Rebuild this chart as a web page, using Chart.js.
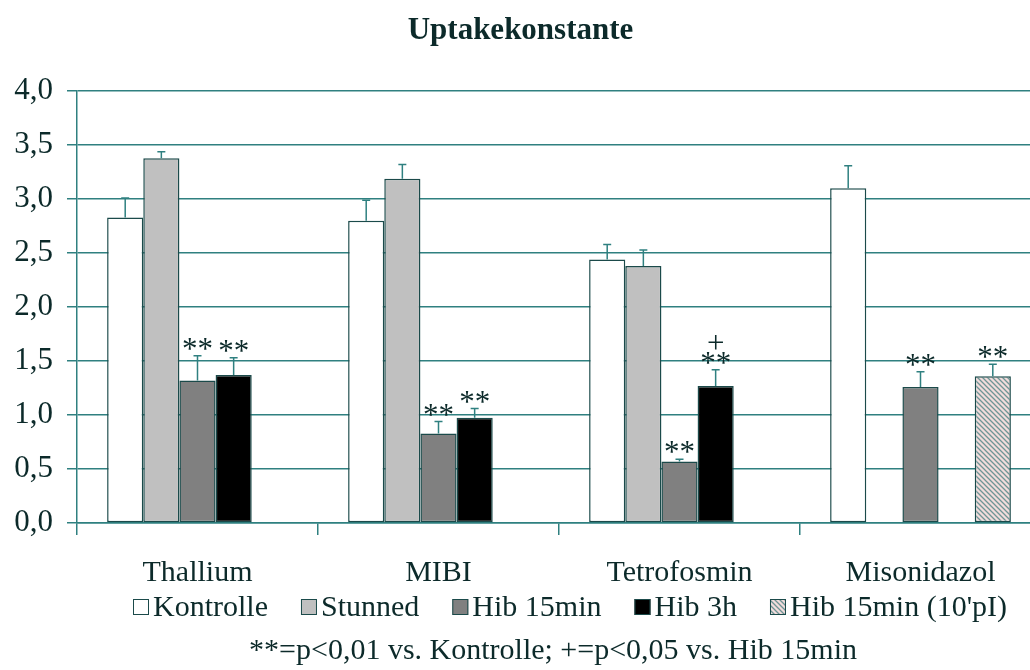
<!DOCTYPE html>
<html>
<head>
<meta charset="utf-8">
<title>Uptakekonstante</title>
<script src="https://cdn.jsdelivr.net/npm/chart.js@4.4.1/dist/chart.umd.min.js"></script>
<style>
  html, body { margin: 0; padding: 0; background: #fff; overflow: hidden; }
  #wrap { width: 1030px; height: 670px; overflow: hidden; }
</style>
</head>
<body>
<div id="wrap"><canvas id="grafico" width="1045" height="670"></canvas></div>
<script>
// data
const categories = ["Thallium", "MIBI", "Tetrofosmin", "Misonidazol"];
const seriesNames = ["Kontrolle", "Stunned", "Hib 15min", "Hib 3h", "Hib 15min (10'pI)"];

const kontrolle = [2.83, 2.80, 2.44, 3.10];
const stunned   = [3.38, 3.19, 2.38, null];
const hib15     = [1.32, 0.83, 0.57, 1.26];
const hib3h     = [1.37, 0.975, 1.27, null];
const hib15pI   = [null, null, null, 1.36];

// upper error (SD) per bar
const errKontrolle = [0.18, 0.19, 0.14, 0.21];
const errStunned   = [0.06, 0.13, 0.15, null];
const errHib15     = [0.23, 0.11, 0.02, 0.14];
const errHib3h     = [0.16, 0.085, 0.15, null];
const errHib15pI   = [null, null, null, 0.11];

// significance marks above the error bars (bottom to top)
const sigKontrolle = [[], [], [], []];
const sigStunned   = [[], [], [], []];
const sigHib15     = [["**"], ["**"], ["**"], ["**"]];
const sigHib3h     = [["**"], ["**"], ["**", "+"], []];
const sigHib15pI   = [[], [], [], ["**"]];

const yTicks = [0, 0.5, 1, 1.5, 2, 2.5, 3, 3.5, 4];
const footnote = "**=p<0,01 vs. Kontrolle; +=p<0,05 vs. Hib 15min";

const SERIF = "'Liberation Serif', 'DejaVu Serif', serif";
const TEXT = "#0c2a2a";
const LINE = "#2f8080";
const EDGE = "#1b4a4a";

function hatch() {
    const c = document.createElement("canvas");
    c.width = 5; c.height = 5;
    const g = c.getContext("2d");
    g.fillStyle = "#f2dcdc";
    g.fillRect(0, 0, 5, 5);
    g.strokeStyle = "#6f9595";
    g.lineWidth = 1.3;
    g.beginPath();
    g.moveTo(-1, -1); g.lineTo(6, 6);
    g.moveTo(-1, 4); g.lineTo(1, 6);
    g.moveTo(4, -1); g.lineTo(6, 1);
    g.stroke();
    return g.createPattern(c, "repeat");
}
const hatchFill = hatch();

const fills = ["#ffffff", "#c0c0c0", "#808080", "#000000", hatchFill];
const values = [kontrolle, stunned, hib15, hib3h, hib15pI];
const errors = [errKontrolle, errStunned, errHib15, errHib3h, errHib15pI];
const marks = [sigKontrolle, sigStunned, sigHib15, sigHib3h, sigHib15pI];

const datasets = seriesNames.map((name, i) => ({
    label: name,
    data: values[i],
    backgroundColor: fills[i],
    borderColor: EDGE,
    borderWidth: 1.5,
    borderSkipped: false,
    categoryPercentage: 0.75,
    barPercentage: 1.0
}));

// error bars + asterisks
const fehlerPlugin = {
    id: "fehler",
    afterDatasetsDraw(chart) {
        const ctx = chart.ctx;
        const y = chart.scales.y;
        ctx.save();
        chart.data.datasets.forEach((ds, i) => {
            const meta = chart.getDatasetMeta(i);
            meta.data.forEach((bar, j) => {
                const v = values[i][j];
                if (v === null) return;
                const e = errors[i][j] || 0;
                const top = y.getPixelForValue(v + e);
                ctx.strokeStyle = LINE;
                ctx.lineWidth = 1.5;
                ctx.beginPath();
                ctx.moveTo(bar.x, bar.y);
                ctx.lineTo(bar.x, top);
                ctx.moveTo(bar.x - 4, top);
                ctx.lineTo(bar.x + 4, top);
                ctx.stroke();

                ctx.fillStyle = TEXT;
                ctx.font = "31px " + SERIF;
                ctx.textAlign = "center";
                ctx.textBaseline = "alphabetic";
                let base = top + 3;
                marks[i][j].forEach((m) => {
                    ctx.fillText(m, bar.x, base);
                    base -= 20;
                });
            });
        });
        ctx.restore();
    }
};

// legend row and footnote below the axis labels
const legendePlugin = {
    id: "legende",
    afterDraw(chart) {
        const ctx = chart.ctx;
        ctx.save();
        ctx.font = "30px " + SERIF;
        ctx.textBaseline = "middle";
        ctx.textAlign = "left";
        let x = 133;
        const yMid = 607;
        seriesNames.forEach((name, i) => {
            ctx.fillStyle = fills[i];
            ctx.fillRect(x, yMid - 8, 16, 16);
            ctx.strokeStyle = EDGE;
            ctx.lineWidth = 1;
            ctx.strokeRect(x + 0.5, yMid - 7.5, 15, 15);
            ctx.fillStyle = TEXT;
            ctx.fillText(name, x + 20, yMid + 1);
            x += 20 + ctx.measureText(name).width + 33;
        });
        ctx.textAlign = "center";
        ctx.fillText(footnote, 553, 651);
        ctx.restore();
    }
};

new Chart(document.getElementById("grafico"), {
    type: "bar",
    data: { labels: categories, datasets: datasets },
    plugins: [fehlerPlugin, legendePlugin],
    options: {
        responsive: false,
        animation: false,
        layout: { padding: { left: 0, right: 4, top: 0, bottom: 87 } },
        plugins: {
            legend: { display: false },
            tooltip: { enabled: false },
            title: {
                display: true,
                text: "Uptakekonstante",
                color: TEXT,
                font: { family: SERIF, size: 31, weight: "bold" },
                padding: { top: 12, bottom: 42 }
            }
        },
        scales: {
            x: {
                grid: {
                    display: true,
                    offset: true,
                    drawOnChartArea: false,
                    drawTicks: true,
                    tickLength: 12,
                    color: LINE,
                    lineWidth: 1.5
                },
                border: { display: true, color: LINE, width: 1.5 },
                ticks: {
                    color: TEXT,
                    font: { family: SERIF, size: 30 },
                    padding: 20
                },
                afterFit(scale) { scale.height = 60; }
            },
            y: {
                min: 0,
                max: 4,
                afterBuildTicks(scale) {
                    scale.ticks = yTicks.map(v => ({ value: v }));
                },
                grid: {
                    color: LINE,
                    lineWidth: 1.5,
                    tickLength: 10
                },
                border: { display: true, color: LINE, width: 1.5 },
                ticks: {
                    color: TEXT,
                    font: { family: SERIF, size: 31 },
                    padding: 14,
                    callback: v => v.toFixed(1).replace(".", ",")
                },
                afterFit(scale) { scale.width = 77; }
            }
        }
    }
});
</script>
</body>
</html>
